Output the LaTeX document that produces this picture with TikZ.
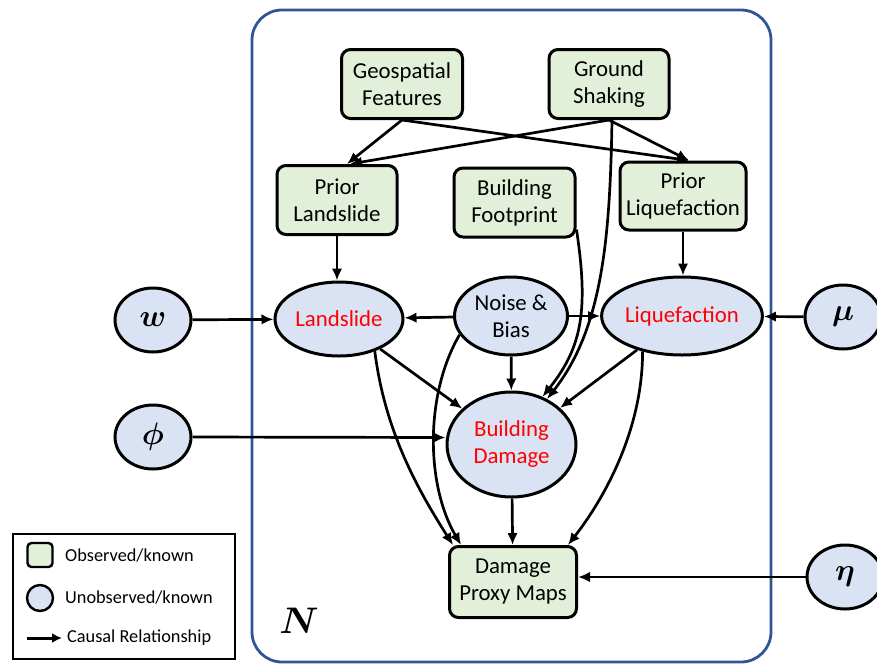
\RequirePackage{fix-cm}
\documentclass[tikz,border=0pt]{standalone}
\usepackage{fontspec}
\setmainfont{Carlito}
\usepackage{bm}
\usetikzlibrary{shapes.geometric,arrows.meta}
\definecolor{obsgreen}{HTML}{E2F0D9}
\definecolor{unobsblue}{HTML}{DAE3F3}
\definecolor{platecol}{HTML}{2F5597}
\begin{document}
\begin{tikzpicture}[x=1pt,y=-1pt,
  txt/.style={font=\fontsize{22.8}{27}\selectfont},
  obs/.style={draw=black, line width=3pt, fill=obsgreen, rounded corners=9pt, align=center, inner sep=0pt, txt},
  unobs/.style={draw=black, ellipse, line width=3pt, fill=unobsblue, align=center, inner sep=0pt, txt},
  hyper/.style={unobs, minimum width=76pt, minimum height=64pt, font=\fontsize{31}{34}\selectfont},
  arr/.style={line width=2.7pt, -{Latex[length=12pt,width=10.5pt]}},
  legtxt/.style={font=\fontsize{18.3}{22}\selectfont, anchor=west, inner sep=0pt}
]
\useasboundingbox (0,0) rectangle (877,664);
\draw[platecol, line width=2.8pt, rounded corners=30pt] (252,10) rectangle (771,662);

% nodes
\node[obs, minimum width=121pt, minimum height=69pt] (GF) at (402,84) {Geospatial\\Features};
\node[obs, minimum width=120pt, minimum height=69pt] (GS) at (609,84) {Ground\\Shaking};
\node[obs, minimum width=120pt, minimum height=69pt] (PL) at (337,200) {Prior\\Landslide};
\node[obs, minimum width=121pt, minimum height=69pt] (BF) at (514.5,202.5) {Building\\Footprint};
\node[obs, minimum width=126pt, minimum height=68pt] (PQ) at (683,196) {Prior\\Liquefaction};
\node[unobs, minimum width=128pt, minimum height=74pt, text=red] (LS) at (339,319) {Landslide};
\node[unobs, minimum width=113pt, minimum height=78pt] (NB) at (511,316) {Noise \&\\Bias};
\node[unobs, minimum width=133pt, minimum height=78pt, text=red] (LQ) at (682,316) {Liquefaction};
\node[unobs, minimum width=129pt, minimum height=105pt, text=red] (BD) at (511.5,444.5) {Building\\Damage};
\node[obs, minimum width=127pt, minimum height=71pt] (DPM) at (513,582) {Damage\\Proxy Maps};
\node[hyper] (W) at (153,320) {$\bm{w}$};
\node[hyper] (PHI) at (153,437) {$\bm{\phi}$};
\node[hyper] (MU) at (843,317) {$\bm{\mu}$};
\node[hyper] (ETA) at (845,577) {$\bm{\eta}$};
\node[font=\fontsize{37}{37}\selectfont, inner sep=0pt] (NL) at (299,621) {$\bm{N}$};

% edges
\draw[arr] (GF.south) -- ([shift={(10,0)}]PL.north);
\draw[arr] (GF.south) -- ([shift={(6,0)}]PQ.north);
\draw[arr] (GS.south) -- ([shift={(13,0)}]PL.north);
\draw[arr] (GS.south) -- ([shift={(6,0)}]PQ.north);
\draw[arr] (PL.south) -- (PL.south |- LS.north);
\draw[arr] (PQ.south) -- (PQ.south |- LQ.north);
\draw[arr] (W) -- (LS);
\draw[arr] (NB) -- (LS);
\draw[arr] (NB) -- (LQ);
\draw[arr] (MU) -- (LQ);
\draw[arr] (NB) -- (BD);
\draw[arr] (LS) -- (BD);
\draw[arr] (LQ) -- (BD);
\draw[arr] (PHI.east) -- ([shift={(0,-7)}]BD.west);
\draw[arr] (BD) -- (DPM);
\draw[arr] (ETA.west) -- (ETA.west -| DPM.east);
\draw[arr] ([shift={(3,0)}]GS.south) .. controls +(-2,120) and +(55,-70) .. (BD.52);
\draw[arr] ([shift={(0,27)}]BF.east) .. controls +(12,80) and +(40,-50) .. (BD.57);
\draw[arr] (LS.-42) .. controls +(10,80) and +(-35,-55) .. ([shift={(5,0)}]DPM.north west);
\draw[arr] (NB.-160) .. controls +(-35,60) and +(-35,-60) .. ([shift={(13,0)}]DPM.north west);
\draw[arr] (LQ.-138) .. controls +(0,80) and +(35,-45) .. ([shift={(-10,0)}]DPM.north east);

% legend
\draw[line width=1.4pt] (13,534) rectangle (235,659);
\node[draw, line width=2.4pt, fill=obsgreen, rounded corners=4pt, minimum width=25pt, minimum height=24pt, inner sep=0pt] (LG1) at (40,555) {};
\node[legtxt] (LT1) at (65,556) {Observed/known};
\node[draw, ellipse, line width=2.4pt, fill=unobsblue, minimum width=26pt, minimum height=26pt, inner sep=0pt] (LG2) at (40,598) {};
\node[legtxt] (LT2) at (65,598) {Unobserved/known};
\coordinate (LA1) at (27,638);
\coordinate (LA2) at (62,638);
\draw[line width=3pt, -{Latex[length=10pt,width=10pt]}] (LA1) -- (LA2);
\node[legtxt] (LT3) at (67,638) {Causal Relationship};
\end{tikzpicture}
\end{document}
